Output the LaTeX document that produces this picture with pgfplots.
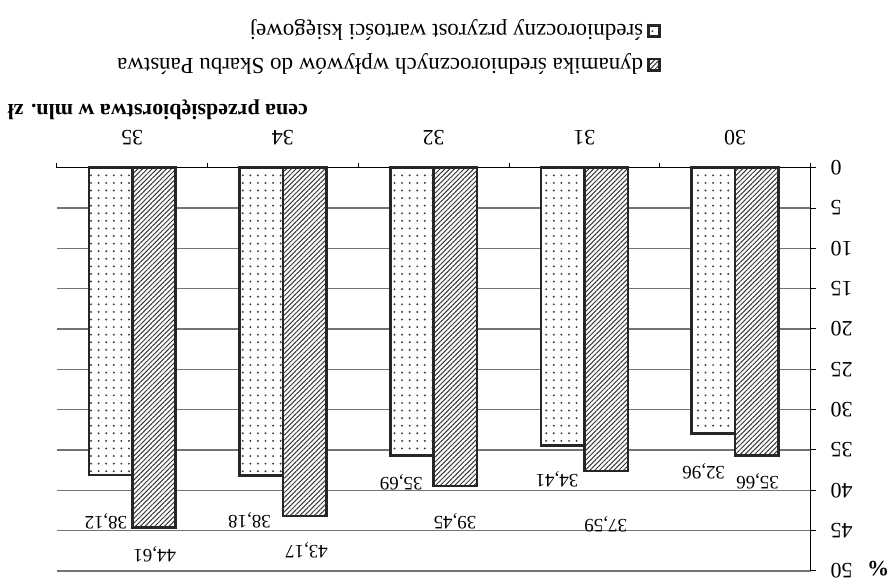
\documentclass[border=0pt]{standalone}
\usepackage{fontspec}
\setmainfont{Liberation Serif}
\usepackage{pgfplots}
\usepackage{pgfplotstable}
\pgfplotsset{compat=1.18}
\usetikzlibrary{patterns.meta}

% dynamika średniorocznych wpływów do Skarbu Państwa (%)
\pgfplotstableread{
pos value
0 35.66
1 37.59
2 39.45
3 43.17
4 44.61
}\wplywy
% średnioroczny przyrost wartości księgowej (%)
\pgfplotstableread{
pos value
0 32.96
1 34.41
2 35.69
3 38.18
4 38.12
}\przyrost

\tikzset{
  hatchbar/.style={fill=white, draw=black!85, line width=1.3pt,
    postaction={pattern={Lines[angle=45,distance=1.7pt,line width=0.5pt]}, pattern color=black!78}},
  dotbar/.style={fill=white, draw=black!85, line width=1.3pt,
    postaction={pattern={Dots[distance=3.8pt,radius=0.55pt]}, pattern color=black!75}},
}
\newcommand{\vlab}{\fontsize{9.5}{11}\selectfont}
\newcommand{\tlab}{\fontsize{11}{13}\selectfont}

\begin{document}
\begin{tikzpicture}
\begin{axis}[
  scale only axis, width=377.5pt, height=202pt,
  x dir=reverse, y dir=reverse,
  xmin=-0.5, xmax=4.5, ymin=0, ymax=50,
  clip=false,
  ybar, bar width=0.288,
  axis x line*=top, axis y line*=right,
  axis line style={black, line width=0.6pt},
  xtick={-0.5,0.5,1.5,2.5,3.5,4.5}, x tick label as interval,
  xticklabels={30,31,32,34,35},
  ytick={0,5,...,50},
  tick align=outside, major tick length=2.5pt,
  tick style={black, line width=0.5pt},
  ymajorgrids, grid style={black!55, line width=0.55pt},
  xticklabel style={rotate=180, anchor=north, font=\tlab},
  yticklabel style={rotate=180, anchor=east, font=\tlab},
  xticklabel shift=5.5pt, yticklabel shift=4pt,
  /pgf/number format/assume math mode=true,
  legend plot pos=right, reverse legend,
  legend cell align=left,
  legend style={at={(rel axis cs:0.438,1.297)}, anchor=center, draw=none, fill=none,
    font=\fontsize{11.5}{14}\selectfont, nodes={rotate=180}, /tikz/row sep=3.5pt},
  legend image code/.code={\draw[#1, line width=1.2pt] (0pt,-2.8pt) rectangle (5.6pt,2.8pt);},
]
\addplot[hatchbar, bar shift=-0.144] table[x=pos, y=value] {\wplywy};
\addlegendentry{dynamika średniorocznych wpływów do Skarbu Państwa}
\addplot[dotbar, bar shift=0.144] table[x=pos, y=value] {\przyrost};
\addlegendentry{średnioroczny przyrost wartości księgowej}

% value labels
\node[rotate=180, font=\vlab] at (axis cs:-0.149,38.9) {35,66};
\node[rotate=180, font=\vlab] at (axis cs:0.209,37.6) {32,96};
\node[rotate=180, font=\vlab] at (axis cs:0.858,44.2) {37,59};
\node[rotate=180, font=\vlab] at (axis cs:1.182,38.6) {34,41};
\node[rotate=180, font=\vlab] at (axis cs:1.858,43.8) {39,45};
\node[rotate=180, font=\vlab] at (axis cs:2.215,39.0) {35,69};
\node[rotate=180, font=\vlab] at (axis cs:2.844,47.5) {43,17};
\node[rotate=180, font=\vlab] at (axis cs:3.222,43.7) {38,18};
\node[rotate=180, font=\vlab] at (axis cs:3.851,47.9) {44,61};
\node[rotate=180, font=\vlab] at (axis cs:4.175,43.8) {38,12};

% axis titles
\node[rotate=180, font=\bfseries\tlab] at (rel axis cs:0.134,1.144) {cena przedsiębiorstwa w mln. zł};
\node[rotate=180, font=\bfseries\tlab] at (rel axis cs:1.090,0.005) {\%};

% page frame
\path (rel axis cs:-0.0755,1.4158) rectangle (rel axis cs:1.1113,-0.0198);
\end{axis}
\end{tikzpicture}
\end{document}
